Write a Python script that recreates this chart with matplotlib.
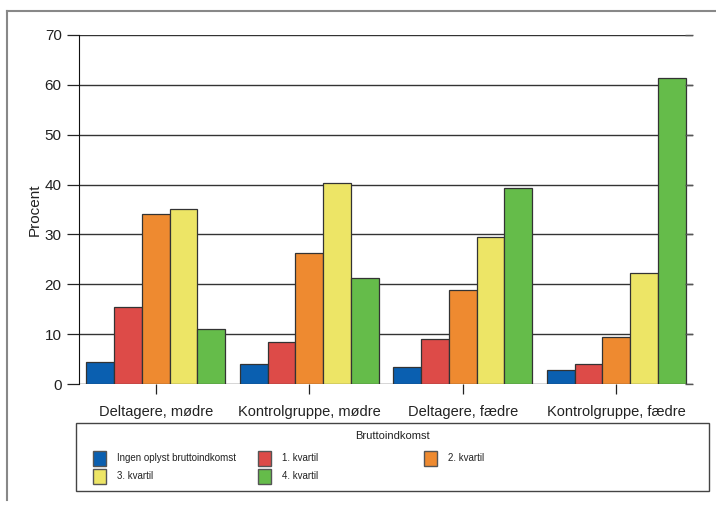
import numpy as np
import matplotlib.pyplot as plt
from matplotlib.patches import Rectangle
from matplotlib.lines import Line2D

plt.rcParams['font.family'] = ['Liberation Sans', 'DejaVu Sans']

groups = ['Deltagere, mødre', 'Kontrolgruppe, mødre', 'Deltagere, fædre', 'Kontrolgruppe, fædre']
series = ['Ingen oplyst bruttoindkomst', '1. kvartil', '2. kvartil', '3. kvartil', '4. kvartil']
colors = ['#0a5fb0', '#dd4b48', '#ee8a30', '#ede566', '#65bc4a']

ingen = [4.5, 4.0, 3.5, 2.9]
kv1 = [15.4, 8.4, 9.0, 4.1]
kv2 = [34.0, 26.2, 18.9, 9.5]
kv3 = [35.2, 40.4, 29.4, 22.2]
kv4 = [11.1, 21.2, 39.4, 61.3]
values = [ingen, kv1, kv2, kv3, kv4]

fig = plt.figure(figsize=(7.16, 5.14), dpi=100)
W, H = 716, 514
ax = fig.add_axes([79 / W, 1 - 384 / H, (693 - 79) / W, (384 - 35) / H])

x = np.arange(len(groups))
bw = 0.181
for i, (vals, c) in enumerate(zip(values, colors)):
    ax.bar(x + (i - 2) * bw, vals, bw, color=c, edgecolor='#333333', lw=0.9, zorder=3)

ax.set_xlim(-0.5, 3.5)
ax.set_ylim(0, 70)
ax.set_yticks(np.arange(0, 71, 10))
ax.yaxis.grid(True, color='#333333', lw=1, zorder=0)
ax.set_xticks(x)
ax.set_xticklabels(groups, fontsize=10.5, color='#222222')
ax.tick_params(axis='y', labelsize=11, colors='#222222', length=9, width=0.9, direction='out')
ax.tick_params(axis='x', length=7, width=0.9, pad=8, colors='#222222')
for s in ['top', 'right', 'bottom']:
    ax.spines[s].set_visible(False)
ax.spines['left'].set_color('#111111')
ax.set_ylabel('Procent', fontsize=11, color='#222222', labelpad=2)

# short inward ticks on the right side
ax2 = ax.twinx()
ax2.set_ylim(ax.get_ylim())
ax2.set_yticks(np.arange(0, 71, 10))
ax2.tick_params(axis='y', direction='in', length=6, width=1, colors='#555555', labelright=False)
for s in ax2.spines.values():
    s.set_visible(False)

# outer frame
fig.add_artist(Line2D([7 / W, 1], [1 - 10.5 / H, 1 - 10.5 / H], color='#888888', lw=1.5))
fig.add_artist(Line2D([7.5 / W, 7.5 / W], [1 - 10.5 / H, 1 - 500 / H], color='#888888', lw=1.5))

# legend box
lx0, ly0, lx1, ly1 = 76, 423, 709, 491
fig.add_artist(Rectangle((lx0 / W, 1 - ly1 / H), (lx1 - lx0) / W, (ly1 - ly0) / H,
                         facecolor='white', edgecolor='#444444', lw=1))
fig.text((lx0 + lx1) / 2 / W, 1 - 436 / H, 'Bruttoindkomst', ha='center', va='center',
         fontsize=8, color='#222222')
col_x = [93, 258, 424]
row_y = [458, 476]
for k, name in enumerate(series):
    cx = col_x[k % 3]
    cy = row_y[k // 3]
    fig.add_artist(Rectangle((cx / W, 1 - (cy + 7.5) / H), 13 / W, 15 / H,
                             facecolor=colors[k], edgecolor='#555555', lw=1))
    fig.text((cx + 24) / W, 1 - cy / H, name, ha='left', va='center',
             fontsize=7, color='#222222')

fig.savefig('out.png', dpi=100)
